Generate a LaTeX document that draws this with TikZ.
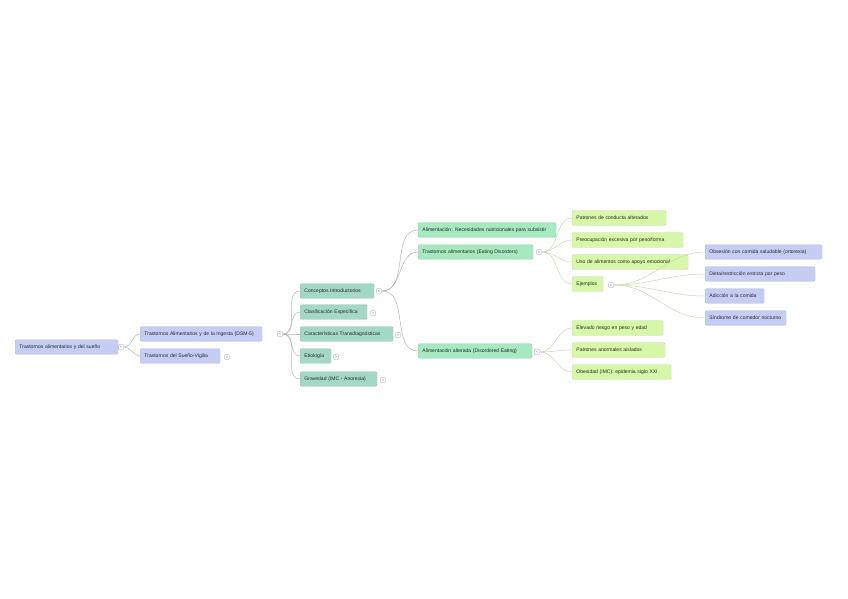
\documentclass[tikz,border=0pt]{standalone}
\usepackage{fontspec}
\setmainfont{Liberation Sans}
\usetikzlibrary{positioning}
\definecolor{lavbg}{RGB}{197,205,245}
\definecolor{tealbg}{RGB}{163,216,198}
\definecolor{mintbg}{RGB}{166,232,192}
\definecolor{limebg}{RGB}{214,248,168}
\definecolor{linkgray}{RGB}{175,180,180}
\definecolor{linklime}{RGB}{200,214,180}

\begin{document}
\begin{tikzpicture}[x=0.3mm, y=-0.3mm,
  box/.style={rounded corners=1pt, anchor=west, inner xsep=1.3mm, inner ysep=0pt,
    minimum height=4.3mm, align=left, text width=#1, text=black!85,
    font=\fontsize{4.3}{5}\selectfont},
  lav/.style={box=#1, fill=lavbg, draw=lavbg!85!black, line width=0.2pt},
  teal/.style={box=#1, fill=tealbg, draw=tealbg!85!black, line width=0.2pt},
  mint/.style={box=#1, fill=mintbg, draw=mintbg!85!black, line width=0.2pt},
  lime/.style={box=#1, fill=limebg, draw=limebg!85!black, line width=0.2pt},
  knob/.style={circle, draw=gray!60, fill=white, line width=0.3pt, inner sep=0pt,
    minimum size=1.8mm, text=gray, font=\fontsize{3.5}{3.5}\selectfont},
  link/.style={linkgray, line width=0.4pt},
  sublink/.style={linklime, line width=0.4pt}]

  % page
  \fill[white] (0,0) rectangle (848,599);

  % root and first level
  \node[lav=28.3mm] (root) at (15,347) {Trastornos alimentarios y del sueño};
  \node[knob] (kroot) at (121,347) {<};
  \node[lav=34mm] (dsm) at (140,334) {Trastornos Alimentarios y de la Ingesta (DSM-5)};
  \node[knob] (kdsm) at (280,334) {<};
  \node[lav=21.4mm] (sueno) at (140,356) {Trastornos del Sueño-Vigilia};
  \node[knob] (ksueno) at (227,357) {>};

  % second level
  \node[teal=19.6mm] (concept) at (300,291) {Conceptos Introductorios};
  \node[knob] (kconcept) at (379,291) {<};
  \node[teal=17.5mm] (clasif) at (300,312) {Clasificación Específica};
  \node[knob] (kclasif) at (373,313) {>};
  \node[teal=25.3mm] (caract) at (300,334) {Características Transdiagnósticas};
  \node[knob] (kcaract) at (398,335) {>};
  \node[teal=6.7mm] (etiol) at (300,356) {Etiología};
  \node[knob] (ketiol) at (336,357) {>};
  \node[teal=20.5mm] (grav) at (300,379) {Gravedad (IMC - Anorexia)};
  \node[knob] (kgrav) at (383,380) {>};

  % third level
  \node[mint=38.8mm] (alim) at (418,230) {Alimentación: Necesidades nutricionales para subsistir};
  \node[mint=31.9mm] (eatdis) at (418,252) {Trastornos alimentarios (Eating Disorders)};
  \node[knob] (keatdis) at (539,252) {<};
  \node[mint=31.6mm] (altered) at (418,351) {Alimentación alterada (Disordered Eating)};
  \node[knob] (kaltered) at (537,352) {<};

  % fourth level
  \node[lime=25.6mm] (patr) at (572,218) {Patrones de conducta alterados};
  \node[lime=30.7mm] (preoc) at (572,240) {Preocupación excesiva por peso/forma};
  \node[lime=32.2mm] (uso) at (572,262) {Uso de alimentos como apoyo emocional};
  \node[lime=6.7mm] (ejem) at (572,284) {Ejemplos};
  \node[knob] (kejem) at (611,285) {<};
  \node[lime=24.7mm] (elev) at (572,328) {Elevado riesgo en peso y edad};
  \node[lime=25.3mm] (patan) at (572,350) {Patrones anormales aislados};
  \node[lime=27.1mm] (obesi) at (572,372) {Obesidad (IMC): epidemia siglo XXI};

  % fifth level
  \node[lav=32.5mm] (obses) at (705,252) {Obsesión con comida saludable (ortorexia)};
  \node[lav=30.4mm] (dieta) at (705,274) {Dieta/restricción estricta por peso};
  \node[lav=15.1mm] (adicc) at (705,296) {Adicción a la comida};
  \node[lav=21.7mm] (sindr) at (705,318) {Síndrome de comedor nocturno};

  % connectors
  \draw[link] (root) -- (kroot);
  \foreach \c in {dsm,sueno}
    \draw[link] (kroot.east) to[out=0,in=180] (\c.west);
  \foreach \c in {concept,clasif,caract,etiol,grav}
    \draw[link] (kdsm.east) to[out=0,in=180] (\c.west);
  \foreach \c in {alim,eatdis,altered}
    \draw[link] (kconcept.east) to[out=0,in=180] (\c.west);
  \foreach \c in {patr,preoc,uso,ejem}
    \draw[sublink] (keatdis.east) to[out=0,in=180] (\c.west);
  \foreach \c in {elev,patan,obesi}
    \draw[sublink] (kaltered.east) to[out=0,in=180] (\c.west);
  \foreach \c in {obses,dieta,adicc,sindr}
    \draw[sublink] (kejem.east) to[out=0,in=180] (\c.west);
\end{tikzpicture}
\end{document}
